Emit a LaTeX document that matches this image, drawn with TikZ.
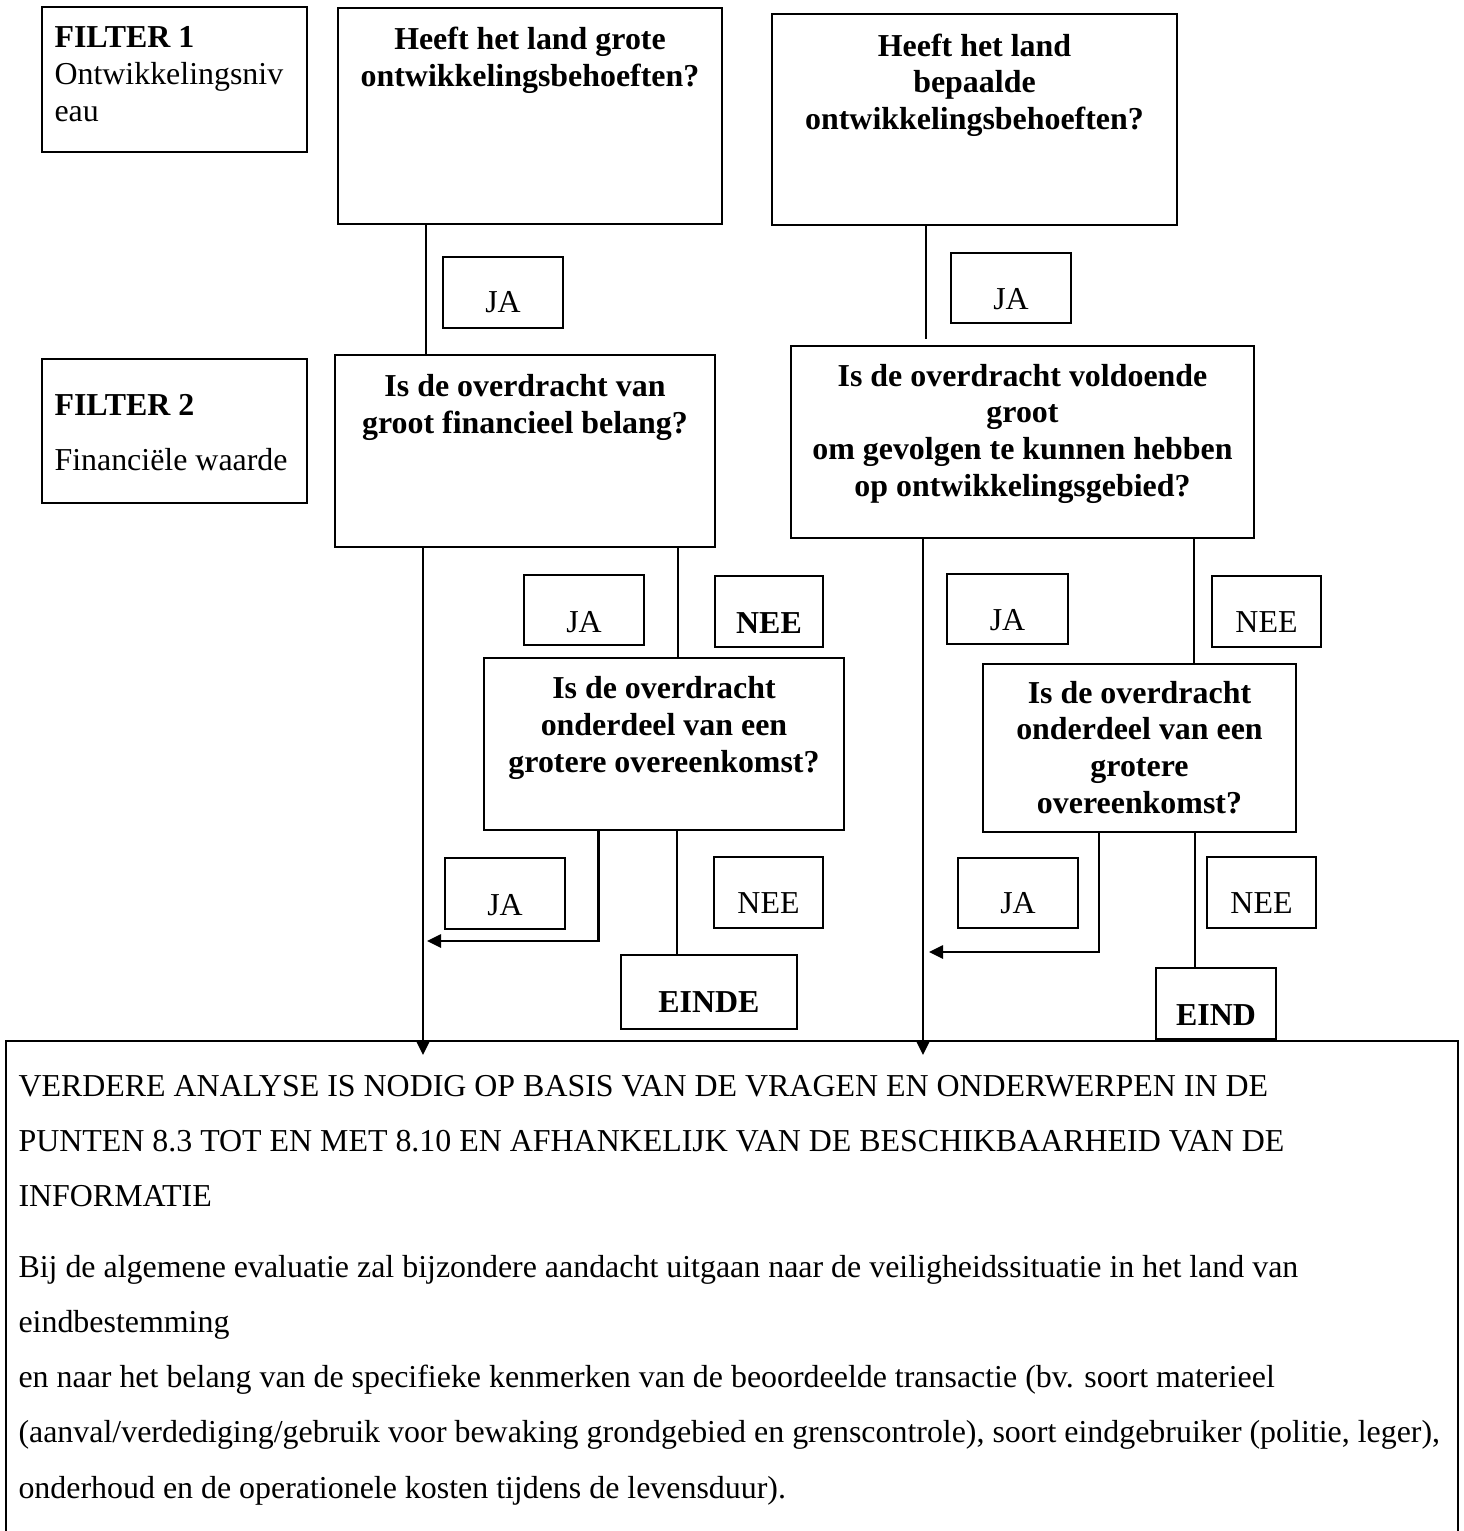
\documentclass[tikz,border=0pt]{standalone}
\usepackage{fontspec}
\setmainfont{Liberation Serif}
\usetikzlibrary{arrows.meta,calc}
\def\pxu{0.376pt}
\newcommand\bx[5]{\node[boxst,minimum width={(#4-#2)*\pxu},minimum height={(#5-#3)*\pxu}] (#1) at ({(#2+#4)/2},{(#3+#5)/2}) {};}
\tikzset{
  boxst/.style={draw, line width=0.78pt, inner sep=0pt, outer sep=0pt},
  qt/.style={font=\bfseries\fontsize{12}{13.76}\selectfont, align=center, inner sep=0pt, anchor=base},
  lt/.style={font=\fontsize{12}{13.76}\selectfont, inner sep=0pt, anchor=base},
  bt/.style={font=\bfseries\fontsize{12}{13.76}\selectfont, inner sep=0pt, anchor=base},
  conn/.style={line width=0.78pt},
  arr/.style={conn, -{Triangle[length=5.3pt,width=5pt]}}
}
\begin{document}
\begin{tikzpicture}[x=\pxu,y=-\pxu]
\useasboundingbox (0,0) rectangle (1464,1531);
\fill[white] (0,0) rectangle (1464,1531);
% main boxes
\bx{F1}{42}{7}{307}{152}
\bx{A}{338}{8}{722}{224}
\bx{B}{772}{14}{1177}{225}
\bx{F2}{42}{359}{307}{503}
\bx{C}{335}{355}{715}{547}
\bx{D}{791}{346}{1254}{538}
\bx{E}{484}{658}{844}{830}
\bx{F}{983}{664}{1296}{832}
\bx{Bot}{6}{1041}{1458}{1560}
% label boxes
\bx{ja1}{443}{257}{563}{328}
\bx{ja2}{951}{253}{1071}{323}
\bx{ja3}{524}{575}{644}{645}
\bx{nee3}{715}{576}{823}{647}
\bx{ja4}{947}{574}{1068}{644}
\bx{nee4}{1212}{576}{1321}{647}
\bx{ja5}{445}{858}{565}{929}
\bx{nee5}{714}{857}{823}{928}
\bx{ja6}{958}{858}{1078}{928}
\bx{nee6}{1207}{857}{1316}{928}
\bx{einde}{621}{955}{797}{1029}
\bx{eind}{1156}{968}{1276}{1039}
% texts (multi-line nodes: base anchor = baseline of last line)
\node[lt, anchor=base west, align=left] (tF1) at (54,121) {\textbf{FILTER 1}\\Ontwikkelingsniv\\eau};
\node[lt, anchor=base west, align=left] (tF2) at (54,470) {\textbf{FILTER 2}\\[6.6pt]Financiële waarde};
\node[qt] (tA) at (A.center |- 0,86) {Heeft het land grote\\ontwikkelingsbehoeften?};
\node[qt] (tB) at (B.center |- 0,129.5) {Heeft het land\\bepaalde\\ontwikkelingsbehoeften?};
\node[qt] (tC) at (C.center |- 0,433) {Is de overdracht van\\groot financieel belang?};
\node[qt] (tD) at (D.center |- 0,496) {Is de overdracht voldoende\\groot\\om gevolgen te kunnen hebben\\op ontwikkelingsgebied?};
\node[qt] (tE) at (E.center |- 0,772) {Is de overdracht\\onderdeel van een\\grotere overeenkomst?};
\node[qt] (tFF) at (F.center |- 0,813) {Is de overdracht\\onderdeel van een\\grotere\\overeenkomst?};
\node[lt] (tja1) at (ja1.center |- 0,312) {JA};
\node[lt] (tja2) at (ja2.center |- 0,309) {JA};
\node[lt] (tja3) at (ja3.center |- 0,632) {JA};
\node[bt] (tnee3) at (nee3.center |- 0,633) {NEE};
\node[lt] (tja4) at (ja4.center |- 0,630) {JA};
\node[lt] (tnee4) at (nee4.center |- 0,632) {NEE};
\node[lt] (tja5) at (ja5.center |- 0,915) {JA};
\node[lt] (tnee5) at (nee5.center |- 0,913) {NEE};
\node[lt] (tja6) at (ja6.center |- 0,913) {JA};
\node[lt] (tnee6) at (nee6.center |- 0,913) {NEE};
\node[bt] (teinde) at (einde.center |- 0,1012) {EINDE};
\node[bt] (teind) at (eind.center |- 0,1025) {EIND};
\node[lt, anchor=base west, align=left, font=\fontsize{12}{20.7}\selectfont] (tBot) at (18,1498) {VERDERE ANALYSE IS NODIG OP BASIS VAN DE VRAGEN EN ONDERWERPEN IN DE\\
PUNTEN 8.3 TOT EN MET 8.10 EN AFHANKELIJK VAN DE BESCHIKBAARHEID VAN DE\\
INFORMATIE\\[6.0pt]
Bij de algemene evaluatie zal bijzondere aandacht uitgaan naar de veiligheidssituatie in het land van\\
eindbestemming\\
en naar het belang van de specifieke kenmerken van de beoordeelde transactie (bv. soort materieel\\
(aanval/verdediging/gebruik voor bewaking grondgebied en grenscontrole), soort eindgebruiker (politie, leger),\\
onderhoud en de operationele kosten tijdens de levensduur).};
% connectors
\draw[conn] (A.south -| 426,0) -- (C.north -| 426,0);
\draw[conn, shorten >=2.6pt] (B.south -| 926,0) -- (D.north -| 926,0);
\draw[arr] (C.south -| 423,0) -- ($(Bot.north -| 423,0)+(0,14)$);
\draw[conn] (C.south -| 678,0) -- (E.north -| 678,0);
\draw[arr] (D.south -| 923,0) -- ($(Bot.north -| 923,0)+(0,14)$);
\draw[conn] (D.south -| 1194,0) -- (F.north -| 1194,0);
\coordinate (L1) at (427,941);
\coordinate (R1) at (929,952);
\draw[arr] (E.south -| 598.5,0) |- (L1);
\draw[conn] (E.south -| 677,0) -- (einde.north -| 677,0);
\draw[arr] (F.south -| 1099,0) |- (R1);
\draw[conn] (F.south -| 1195,0) -- (eind.north -| 1195,0);
\end{tikzpicture}
\end{document}
